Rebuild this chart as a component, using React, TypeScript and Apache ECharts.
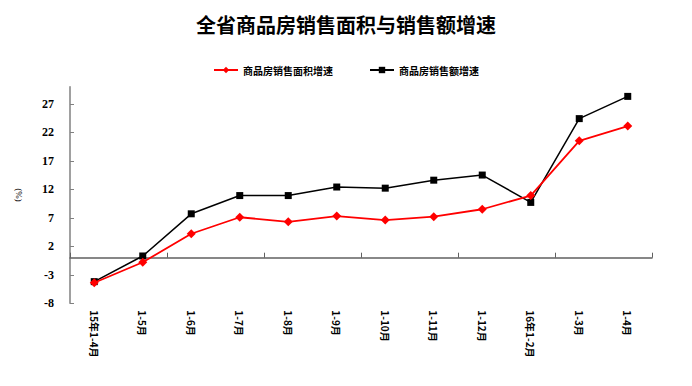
import React, { useEffect, useRef } from "react";
import * as echarts from "echarts";

const categories = ["15年1-4月", "1-5月", "1-6月", "1-7月", "1-8月", "1-9月", "1-10月", "1-11月", "1-12月", "16年1-2月", "1-3月", "1-4月"];
const areaGrowth = [-4.4, -0.8, 4.2, 7.1, 6.3, 7.3, 6.6, 7.2, 8.5, 10.9, 20.5, 23.1];
const salesGrowth = [-4.2, 0.3, 7.7, 10.9, 10.9, 12.4, 12.2, 13.6, 14.5, 9.7, 24.4, 28.3];
const seriesNames = ["商品房销售面积增速", "商品房销售额增速"];
const titleText = "全省商品房销售面积与销售额增速";

export default function App() {
  const ref = useRef<HTMLDivElement>(null);
  useEffect(() => {
    if (!ref.current) return;
    const chart = echarts.init(ref.current, undefined, { renderer: "svg" });
    const numFont = "'Liberation Serif', 'Noto Sans CJK SC', serif";
    const cjkFont = "'Noto Sans CJK SC', sans-serif";
    chart.setOption({
      animation: false,
      backgroundColor: "#ffffff",
      title: {
        text: titleText,
        left: "center",
        top: 9,
        textStyle: { fontFamily: cjkFont, fontSize: 20, fontWeight: "bold", color: "#000" },
      },
      legend: {
        top: 60,
        left: "center",
        itemGap: 36,
        itemWidth: 24,
        itemHeight: 8,
        textStyle: { fontFamily: cjkFont, fontSize: 10, fontWeight: "bold", color: "#000" },
        data: [seriesNames[0], seriesNames[1]],
      },
      grid: { left: 70, right: 40, top: 86.7, bottom: 82.7 },
      xAxis: [
        {
          type: "category",
          data: categories,
          boundaryGap: true,
          axisLine: { onZero: true, lineStyle: { color: "#606060", width: 1.5 } },
          axisTick: { show: true, inside: true, length: 5, lineStyle: { color: "#606060" } },
          axisLabel: { show: false },
          splitLine: { show: false },
        },
        {
          type: "category",
          data: categories,
          position: "bottom",
          boundaryGap: true,
          axisLine: { show: false, onZero: false },
          axisTick: { show: false },
          axisLabel: {
            rotate: -90,
            margin: 7,
            interval: 0,
            fontFamily: cjkFont,
            fontSize: 10,
            fontWeight: "bold",
            color: "#000",
          },
        },
      ],
      yAxis: {
        type: "value",
        min: -8,
        max: 30,
        interval: 5,
        name: "(%)",
        nameLocation: "middle",
        nameRotate: -90,
        nameGap: 46,
        nameTextStyle: { fontFamily: numFont, fontSize: 9, color: "#000" },
        axisLine: { show: true, lineStyle: { color: "#808080", width: 1.5 } },
        axisTick: { show: true, inside: true, length: 4, lineStyle: { color: "#808080" } },
        axisLabel: {
          showMaxLabel: false,
          margin: 16,
          fontFamily: numFont,
          fontSize: 12,
          fontWeight: "bold",
          color: "#000",
        },
        splitLine: { show: false },
      },
      series: [
        {
          name: seriesNames[0],
          type: "line",
          data: areaGrowth,
          xAxisIndex: 0,
          symbol: "diamond",
          symbolSize: 9,
          itemStyle: { color: "#ff0000" },
          lineStyle: { color: "#ff0000", width: 1.8 },
          z: 3,
        },
        {
          name: seriesNames[1],
          type: "line",
          data: salesGrowth,
          xAxisIndex: 0,
          symbol: "rect",
          symbolSize: 7,
          itemStyle: { color: "#000000" },
          lineStyle: { color: "#000000", width: 1.5 },
          z: 2,
        },
      ],
    });
    return () => chart.dispose();
  }, []);
  return (
    <div
      ref={ref}
      style={{ position: "fixed", left: 0, top: 0, width: 692, height: 386 }}
    />
  );
}
